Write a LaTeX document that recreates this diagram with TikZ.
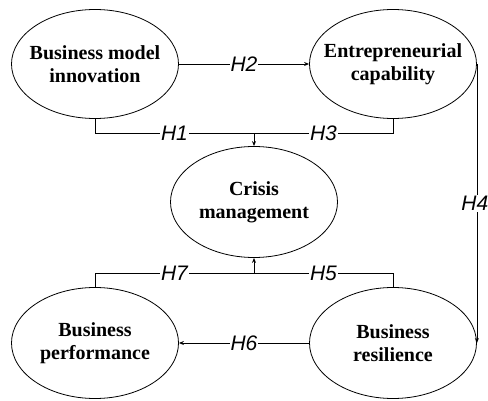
\documentclass[tikz,border=0pt]{standalone}
\usepackage{fontspec}
\setmainfont{Liberation Serif}
\newfontfamily\hfont{Liberation Sans}
\usetikzlibrary{shapes.geometric,arrows.meta}
\tikzset{var/.style={draw,ellipse,line width=0.8pt,minimum width=167pt,minimum height=109pt,inner xsep=-15pt,inner ysep=0pt,align=center,font=\fontsize{20}{23}\selectfont\bfseries},
hyp/.style={fill=white,inner sep=1pt,font=\hfont\itshape\fontsize{21}{21}\selectfont}}

\begin{document}
\begin{tikzpicture}[x=1pt,y=1pt]
\useasboundingbox (0,0) rectangle (488,400);
\path 
(95,336) node[var](bmi){Business model\\innovation}
(393,336) node[var](ec){Entrepreneurial\\capability}
(254,198) node[var,minimum height=111pt](cm){Crisis\\management}
(95,57) node[var,minimum height=111pt](bp){Business\\performance}
(393,57) node[var,minimum height=111pt](br){Business\\resilience};
\coordinate (j1) at (254,267);
\coordinate (j2) at (254,127);
\path[draw,line width=0.8pt,-{Stealth[length=5pt,width=4pt]}] (bmi.east)--node[hyp]{H2}(ec.west);
\path[draw,line width=0.8pt] (bmi.south)--(bmi.south |- j1)--node[hyp]{H1}(j1);
\path[draw,line width=0.8pt] (ec.south)--(ec.south |- j1)--node[hyp]{H3}(j1);
\path[draw,line width=0.8pt,-{Stealth[length=5pt,width=4pt]}] (j1)--(cm.north);
\path[draw,line width=0.8pt,-{Stealth[length=5pt,width=4pt]}] (ec.east)--node[hyp,xshift=-2pt]{H4}(br.east);
\path[draw,line width=0.8pt] (br.north)--(br.north |- j2)--node[hyp]{H5}(j2);
\path[draw,line width=0.8pt] (bp.north)--(bp.north |- j2)--node[hyp]{H7}(j2);
\path[draw,line width=0.8pt,-{Stealth[length=5pt,width=4pt]}] (j2)--(cm.south);
\path[draw,line width=0.8pt,-{Stealth[length=5pt,width=4pt]}] (br.west)--node[hyp]{H6}(bp.east);
\end{tikzpicture}
\end{document}
